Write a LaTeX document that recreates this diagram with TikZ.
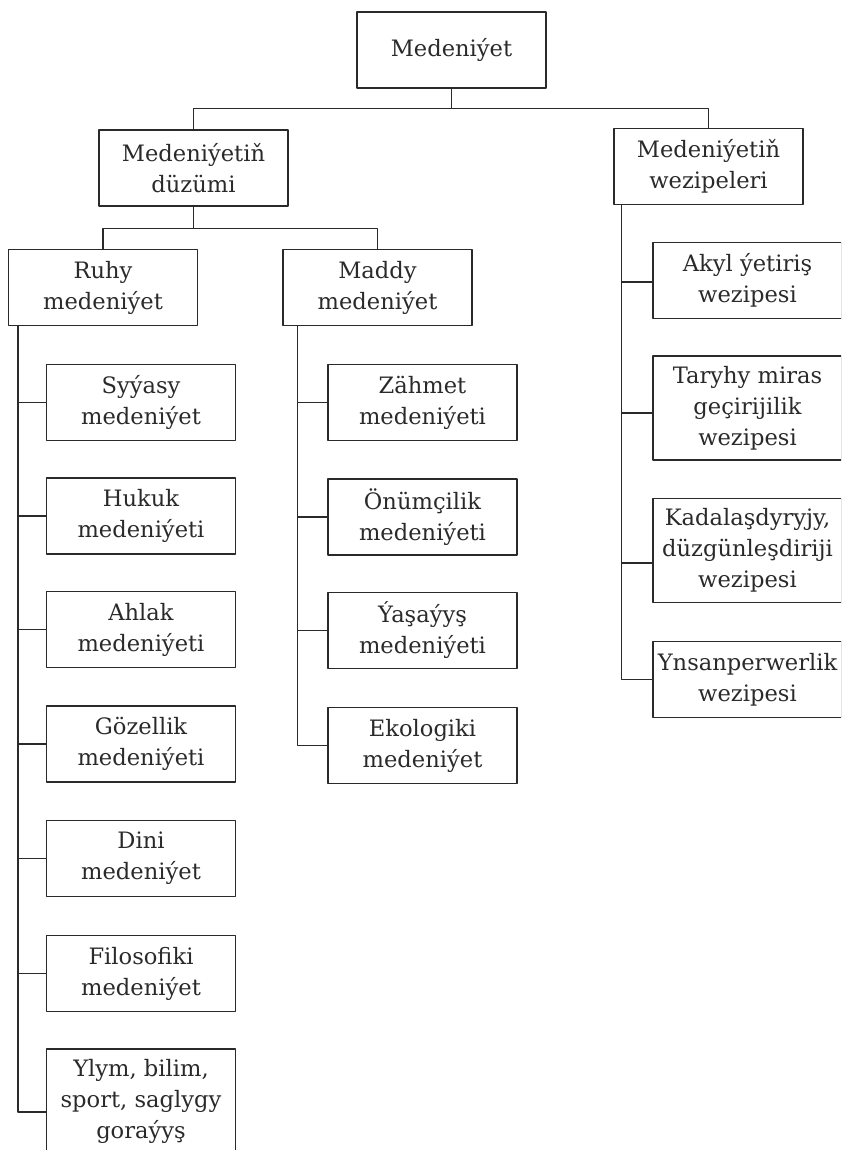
\documentclass[tikz,border=0pt]{standalone}
\usepackage{fontspec}
\setmainfont{DejaVu Serif}
\definecolor{ink}{HTML}{2A2A2A}
\begin{document}
\begin{tikzpicture}[x=1pt,y=-1pt,line join=round,
	box/.style={draw=ink,line width=1.2pt,minimum width=189pt,minimum height=76pt,inner sep=0pt,align=center,text=ink,font=\fontsize{22.6}{31}\selectfont},
	tall/.style={box,minimum height=104pt},
	link/.style={draw=ink,line width=1.2pt}]
	\useasboundingbox (0,0) rectangle (841,1150);
	\clip (0,0) rectangle (841,1150);
	% top levels
	\node[box] (M) at (451.5,50) {Medeniýet};
	\node[box] (D) at (193.5,168) {Medeniýetiň\\düzümi};
	\node[box] (W) at (708.5,166.5) {Medeniýetiň\\wezipeleri};
	\node[box] (R) at (103,287.5) {Ruhy\\medeniýet};
	\node[box] (Md) at (377.5,287.5) {Maddy\\medeniýet};
	% columns
	\foreach \n/\y/\t in {L1/402.5/{Syýasy\\medeniýet},L2/516/{Hukuk\\medeniýeti},L3/629.5/{Ahlak\\medeniýeti},L4/744/{Gözellik\\medeniýeti},L5/858.5/{Dini\\medeniýet},L6/973.5/{Filosofiki\\medeniýet}}
	{\node[box] (\n) at (141,\y) {\t};}
	\node[tall] (L7) at (141,1101) {Ylym, bilim,\\sport, saglygy\\goraýyş};
	\foreach \n/\y/\t in {C1/402.5/{Zähmet\\medeniýeti},C2/517/{Önümçilik\\medeniýeti},C3/630.5/{Ýaşaýyş\\medeniýeti},C4/745.5/{Ekologiki\\medeniýet}}
	{\node[box] (\n) at (422.5,\y) {\t};}
	\node[box] (R1) at (747.5,280.5) {Akyl ýetiriş\\wezipesi};
	\node[tall] (R2) at (747.5,408) {Taryhy miras\\geçirijilik\\wezipesi};
	\node[tall] (R3) at (747.5,550.5) {Kadalaşdyryjy,\\düzgünleşdiriji\\wezipesi};
	\node[box] (R4) at (747.5,679.5) {Ynsanperwerlik\\wezipesi};
	% connectors
	\draw[link] (M.south) -- ([yshift=-20pt]M.south) coordinate (Mj);
	\draw[link] (D.north) |- (Mj) -| (W.north);
	\draw[link] (D.south) -- ([yshift=-22pt]D.south) coordinate (Dj);
	\draw[link] (R.north) |- (Dj) -| (Md.north);
	\coordinate (Rs) at ([xshift=10pt]R.south west);
	\coordinate (Ms) at ([xshift=15pt]Md.south west);
	\coordinate (Ws) at ([xshift=8pt]W.south west);
	\draw[link] (Rs) |- ([yshift=-11pt]L7.west);
	\foreach \n in {L1,L2,L3,L4,L5,L6}
	{\draw[link] (\n.west) -- (\n.west -| Rs);}
	\draw[link] (Ms) |- (C4.west);
	\foreach \n in {C1,C2,C3}
	{\draw[link] (\n.west) -- (\n.west -| Ms);}
	\draw[link] (Ws) |- (R4.west);
	\foreach \n/\s in {R1/-1.5,R2/-5,R3/-12.5}
	{\draw[link] ([yshift=\s pt]\n.west) -- ([yshift=\s pt]\n.west -| Ws);}
\end{tikzpicture}
\end{document}
